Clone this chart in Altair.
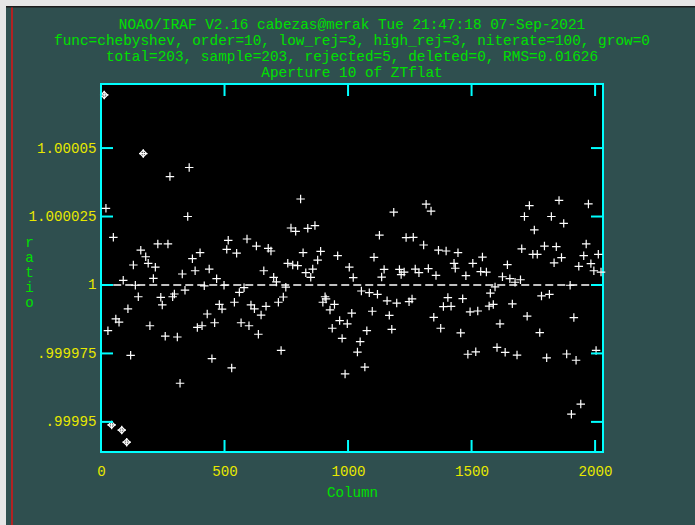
import altair as alt
import pandas as pd

# ---------------- text ----------------
title_lines = [
    "NOAO/IRAF V2.16 cabezas@merak Tue 21:47:18 07-Sep-2021",
    "func=chebyshev, order=10, low_rej=3, high_rej=3, niterate=100, grow=0",
    "total=203, sample=203, rejected=5, deleted=0, RMS=0.01626",
    "Aperture 10 of ZTflat",
]
x_title = "Column"
y_title = ["r", "a", "t", "i", "o"]

# ---------------- data ----------------
columns = [
    357, 279, 20, 351, 50, 515, 230, 271, 161, 401, 509, 181, 370, 131, 191, 220,
    438, 381, 329, 468, 212, 90, 139, 418, 498, 151, 242, 297, 290, 340, 248, 109,
    479, 490, 430, 60, 73, 460, 409, 390, 28, 198, 260, 309, 120, 449, 320, 529,
    808, 769, 788, 837, 866, 591, 629, 677, 688, 549, 818, 889, 877, 958, 1005, 659,
    756, 776, 796, 857, 829, 849, 699, 710, 1021, 579, 748, 560, 540, 607, 621, 668,
    738, 718, 648, 907, 911, 898, 945, 927, 1015, 567, 599, 966, 997, 936, 637, 976,
    729, 988, 1038,
    1316, 1336, 1185, 1127, 1235, 1264, 1306, 1366, 1397, 1445, 1105, 1429, 1434, 1505,
    1146, 1208, 1227, 1215, 1272, 1287, 1325, 1356, 1477, 1136, 1054, 1086, 1119, 1404,
    1464, 1158, 1197, 1247, 1259, 1386, 1417, 1098, 1167, 1347, 1494, 1525, 1076, 1177,
    1375, 1456, 1049, 1485, 1517, 1068,
    1734, 1854, 1973, 1714, 1823, 1873, 1754, 1703, 1795, 1843, 1964, 1544, 1748, 1766,
    1864, 1954, 2013, 1645, 1834, 1934, 1983, 1537, 1560, 1995, 2024, 1625, 1655, 1676,
    1698, 1595, 1899, 1576, 1783, 1815, 1571, 1588, 1665, 1725, 1914, 1615, 1776, 1603,
    1636, 1684, 1804, 1885, 1923, 2004, 1942, 1904,
]
ratios = [
    1.0000429, 1.0000396, 1.0000280, 1.0000250, 1.0000174, 1.0000163, 1.0000150, 1.0000150,
    1.0000127, 1.0000118, 1.0000130, 1.0000103, 1.0000096, 1.0000073, 1.0000079, 1.0000065,
    1.0000058, 1.0000052, 1.0000040, 1.0000023, 1.0000024, 1.0000017, 0.9999999, 0.9999997,
    0.9999999, 0.9999957, 0.9999955, 0.9999967, 0.9999957, 0.9999981, 0.9999927, 0.9999913,
    0.9999929, 0.9999912, 0.9999894, 0.9999876, 0.9999864, 0.9999862, 0.9999851, 0.9999845,
    0.9999833, 0.9999851, 0.9999813, 0.9999810, 0.9999743, 0.9999731, 0.9999641, 0.9999697,
    1.0000314, 1.0000208, 1.0000196, 1.0000207, 1.0000217, 1.0000168, 1.0000142, 1.0000134,
    1.0000124, 1.0000116, 1.0000118, 1.0000123, 1.0000091, 1.0000107, 1.0000065, 1.0000052,
    1.0000079, 1.0000073, 1.0000071, 1.0000058, 1.0000045, 1.0000028, 1.0000028, 1.0000011,
    1.0000027, 0.9999990, 0.9999992, 0.9999973, 0.9999937, 0.9999927, 0.9999913, 0.9999922,
    0.9999956, 0.9999937, 0.9999890, 0.9999957, 0.9999949, 0.9999937, 0.9999929, 0.9999909,
    0.9999897, 0.9999862, 0.9999851, 0.9999870, 0.9999858, 0.9999842, 0.9999820, 0.9999805,
    0.9999761, 0.9999675, 0.9999755,
    1.0000295, 1.0000270, 1.0000266, 1.0000182, 1.0000173, 1.0000174, 1.0000146, 1.0000127,
    1.0000124, 1.0000118, 1.0000101, 1.0000079, 1.0000061, 1.0000079, 1.0000057, 1.0000057,
    1.0000047, 1.0000038, 1.0000058, 1.0000045, 1.0000060, 1.0000035, 1.0000034, 1.0000029,
    0.9999978, 0.9999972, 0.9999966, 0.9999954, 0.9999950, 0.9999942, 0.9999934, 0.9999939,
    0.9999949, 0.9999921, 0.9999922, 0.9999904, 0.9999889, 0.9999882, 0.9999902, 0.9999905,
    0.9999833, 0.9999838, 0.9999842, 0.9999825, 0.9999793, 0.9999747, 0.9999756, 0.9999700,
    1.0000290, 1.0000309, 1.0000296, 1.0000250, 1.0000250, 1.0000225, 1.0000201, 1.0000132,
    1.0000142, 1.0000140, 1.0000150, 1.0000102, 1.0000112, 1.0000112, 1.0000100, 1.0000107,
    1.0000112, 1.0000074, 1.0000081, 1.0000068, 1.0000078, 1.0000049, 1.0000047, 1.0000052,
    1.0000047, 1.0000030, 1.0000023, 1.0000010, 1.0000019, 0.9999993, 0.9999999, 0.9999970,
    0.9999960, 0.9999966, 0.9999923, 0.9999929, 0.9999931, 0.9999886, 0.9999881, 0.9999858,
    0.9999826, 0.9999772, 0.9999754, 0.9999744, 0.9999734, 0.9999748, 0.9999725, 0.9999761,
    0.9999565, 0.9999528,
]
rejected_columns = [13, 171, 43, 84, 104]
rejected_ratios = [1.0000694, 1.0000480, 0.9999489, 0.9999470, 0.9999426]

fit_columns = [1, 2031]
fit_ratios = [1.0, 1.0]

x_ticks = [0, 500, 1000, 1500, 2000]
x_tick_labels = ["0", "500", "1000", "1500", "2000"]
y_ticks = [0.99995, 0.999975, 1.0, 1.000025, 1.00005]
y_tick_labels = [".99995", ".999975", "1", "1.000025", "1.00005"]
x_domain = [0, 2032]
y_domain = [0.999939, 1.0000734]

# ---------------- style ----------------
FONT = "Liberation Mono"
FS = 14.2
TITLE_FS = 14.4
GREEN = "#00e000"
YELLOW = "#e8e800"
CYAN = "#00ffff"
SLATE = "#2f4f4f"
W, H = 502, 368
PAD_L, PAD_T = 101, 84
TICK_LEN = 12


def label_expr(vals, labels):
    parts = [f"abs(datum.value - ({v})) < 1e-9 ? '{l}'" for v, l in zip(vals, labels)]
    return " : ".join(parts) + " : ''"


pts = pd.DataFrame({"col": columns + rejected_columns, "ratio": ratios + rejected_ratios})
rej = pd.DataFrame({"col": rejected_columns, "ratio": rejected_ratios})
fit = pd.DataFrame({"col": fit_columns, "ratio": fit_ratios})
xt = pd.DataFrame({"col": x_ticks})
yt = pd.DataFrame({"ratio": y_ticks})

xs = alt.Scale(domain=x_domain, nice=False, zero=False)
ys = alt.Scale(domain=y_domain, nice=False, zero=False)

x_axis = alt.Axis(
    values=x_ticks, labelExpr=label_expr(x_ticks, x_tick_labels), ticks=False, domain=False,
    grid=False, labelColor=YELLOW, labelFont=FONT, labelFontSize=FS, labelPadding=12,
    labelFlush=False, labelOverlap=False, title=x_title, titleColor=GREEN, titleFont=FONT,
    titleFontSize=FS, titleFontWeight="normal", titleY=40, titleX=W / 2,
    titleBaseline="middle", titleAlign="center",
)
y_axis = alt.Axis(
    values=y_ticks, labelExpr=label_expr(y_ticks, y_tick_labels), ticks=False, domain=False,
    grid=False, labelColor=YELLOW, labelFont=FONT, labelFontSize=FS, labelPadding=5,
    labelFlush=False, labelOverlap=False, labelBaseline="middle",
    title=y_title, titleColor=GREEN, titleFont=FONT, titleFontSize=FS,
    titleFontWeight="normal", titleAngle=0, titleX=-72, titleY=158,
    titleBaseline="middle", titleAlign="center", titleLineHeight=15,
)

X = alt.X("col:Q", scale=xs, axis=x_axis)
Y = alt.Y("ratio:Q", scale=ys, axis=y_axis)

cross = "M-1,0L1,0M0,-1L0,1"

points = alt.Chart(pts).mark_point(
    shape=cross, size=72, filled=False, stroke="white", strokeWidth=1.2, opacity=1
).encode(x=X, y=Y)

diamonds = alt.Chart(rej).mark_point(
    shape="diamond", size=45, filled=False, stroke="white", strokeWidth=1.2, opacity=1
).encode(x=X, y=Y)

fit_line = alt.Chart(fit).mark_line(
    color="white", strokeWidth=1.3, strokeDash=[8, 4]
).encode(x=X, y=Y)

tick_style = dict(color=CYAN, strokeWidth=2)
ticks_bottom = alt.Chart(xt).mark_rule(**tick_style).encode(
    x=X, y=alt.value(H), y2=alt.value(H - TICK_LEN))
ticks_top = alt.Chart(xt).mark_rule(**tick_style).encode(
    x=X, y=alt.value(0), y2=alt.value(TICK_LEN))
ticks_left = alt.Chart(yt).mark_rule(**tick_style).encode(
    y=Y, x=alt.value(0), x2=alt.value(TICK_LEN))
ticks_right = alt.Chart(yt).mark_rule(**tick_style).encode(
    y=Y, x=alt.value(W), x2=alt.value(W - TICK_LEN))

# window chrome (decoration around the plot)
chrome_src = pd.DataFrame({"k": [0]})
gray_left = alt.Chart(chrome_src).mark_rule(color="#e6e6e6", strokeWidth=6).encode(
    x=alt.value(-PAD_L + 3), y=alt.value(-PAD_T), y2=alt.value(525 - PAD_T))
gray_top = alt.Chart(chrome_src).mark_rule(color="#e6e6e6", strokeWidth=6).encode(
    y=alt.value(-PAD_T + 3), x=alt.value(-PAD_L), x2=alt.value(695 - PAD_L))
dark_top = alt.Chart(chrome_src).mark_rule(color="#1c1c1c", strokeWidth=1.5).encode(
    y=alt.value(-PAD_T + 6.8), x=alt.value(-PAD_L + 6), x2=alt.value(695 - PAD_L))
red_left = alt.Chart(chrome_src).mark_rule(color="#b22222", strokeWidth=2).encode(
    x=alt.value(-PAD_L + 12), y=alt.value(-PAD_T + 7.5), y2=alt.value(525 - PAD_T))

chart = alt.layer(
    points, diamonds, fit_line,
    ticks_bottom, ticks_top, ticks_left, ticks_right,
    gray_left, gray_top, dark_top, red_left,
).properties(
    width=W,
    height=H,
    title=alt.TitleParams(
        text=title_lines, font=FONT, fontSize=TITLE_FS, color=GREEN, fontWeight="normal",
        anchor="middle", frame="group", lineHeight=16, baseline="bottom", offset=-97,
    ),
    padding={"left": PAD_L, "top": PAD_T, "right": 695 - PAD_L - W, "bottom": 525 - PAD_T - H},
    autosize=alt.AutoSizeParams(type="none"),
    background=SLATE,
).configure_view(
    fill="black", stroke=CYAN, strokeWidth=2,
)

chart.save("out.html", embed_options={"renderer": "svg", "actions": False})
